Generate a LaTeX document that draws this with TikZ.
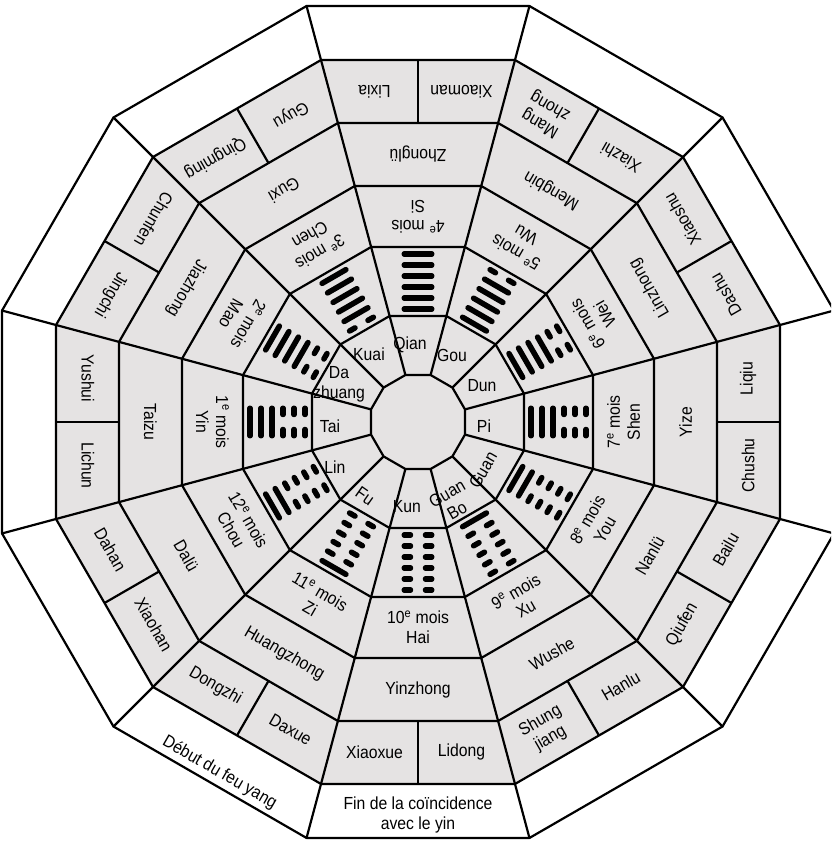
\documentclass[tikz,border=0pt]{standalone}
\usepackage{fontspec}
\setmainfont{Liberation Sans}[FakeStretch=0.9]
\definecolor{paper}{RGB}{229,227,227}
\newcommand\hexgram[2]{%
  \begin{scope}[shift={(#1:140.5)}, rotate=#1+90]
    \foreach \v [count=\n] in {#2} {
      \pgfmathsetmacro\yy{(\n-3.5)*11}
      \ifnum\v=1
        \draw[hexline] (-13.75,\yy) -- (13.75,\yy);
      \else
        \draw[hexline] (-13.75,\yy) -- (-7.5,\yy) (7.5,\yy) -- (13.75,\yy);
      \fi
    }
  \end{scope}}
\newcommand\sectorlabels[6]{%
  \node[lbl, rotate=#1+90] (mo#1) at (#1:205.5) {#2};
  \node[lbl, rotate=#1+90] (lu#1) at (#1:267.5) {#3};
  \node[lbl, rotate=#1+90] (tl#1) at ({#1+7.5}:333) {#4};
  \node[lbl, rotate=#1+90] (tr#1) at ({#1-7.5}:333) {#5};
  \hexgram{#1}{#6}}
\begin{document}
\begin{tikzpicture}[x=1pt,y=1pt,line join=round,
  ring/.style={line width=2.2pt},
  hexline/.style={line width=5.5pt,line cap=round},
  lbl/.style={font=\fontsize{17.5}{20}\selectfont,align=center,inner sep=0pt}]
\clip (-418,-421) rectangle (413,422);
% vertices of the seven dodecagons
\foreach \r [count=\j] in {47,106,175,236,299,362,416} {
  \foreach \k in {0,...,11} {
    \coordinate (v\j-\k) at ({15+30*\k}:{\r/cos(15)});
  }
}
\foreach \k in {0,...,11} {
  \coordinate (m5-\k) at ({30*\k}:299);
  \coordinate (m6-\k) at ({30*\k}:362);
}
% fills
\fill[white] (v7-0) \foreach \k in {1,...,11}{ -- (v7-\k) } -- cycle;
\fill[paper] (v6-0) \foreach \k in {1,...,11}{ -- (v6-\k) } -- cycle;
% rings
\foreach \j in {1,...,7} {
  \draw[ring] (v\j-0) \foreach \k in {1,...,11}{ -- (v\j-\k) } -- cycle;
}
% spokes
\foreach \k in {0,...,11} { \draw[ring] (v1-\k) -- (v7-\k); }
% dividers of the 24 terms
\foreach \k in {0,...,11} { \draw[ring] (m5-\k) -- (m6-\k); }
% sectors
\sectorlabels{90}{4\textsuperscript{e} mois\\Si}{Zhonglü}{Lixia}{Xiaoman}{1,1,1,1,1,1}
\sectorlabels{60}{5\textsuperscript{e} mois\\Wu}{Mengbin}{Mang\\zhong}{Xiazhi}{0,1,1,1,1,1}
\sectorlabels{30}{6\textsuperscript{e} mois\\Wei}{Linzhong}{Xiaoshu}{Dashu}{0,0,1,1,1,1}
\sectorlabels{0}{7\textsuperscript{e} mois\\Shen}{Yize}{Liqiu}{Chushu}{0,0,0,1,1,1}
\sectorlabels{-30}{8\textsuperscript{e} mois\\You}{Nanlü}{Bailu}{Qiufen}{0,0,0,0,1,1}
\sectorlabels{-60}{9\textsuperscript{e} mois\\Xu}{Wushe}{Hanlu}{Shung\\jiang}{0,0,0,0,0,1}
\sectorlabels{-90}{10\textsuperscript{e} mois\\Hai}{Yinzhong}{Lidong}{Xiaoxue}{0,0,0,0,0,0}
\sectorlabels{-120}{11\textsuperscript{e} mois\\Zi}{Huangzhong}{Daxue}{Dongzhi}{1,0,0,0,0,0}
\sectorlabels{-150}{12\textsuperscript{e} mois\\Chou}{Dalü}{Xiaohan}{Dahan}{1,1,0,0,0,0}
\sectorlabels{180}{1\textsuperscript{e} mois\\Yin}{Taizu}{Lichun}{Yushui}{1,1,1,0,0,0}
\sectorlabels{150}{2\textsuperscript{e} mois\\Mao}{Jiazhong}{Jingchi}{Chunfen}{1,1,1,1,0,0}
\sectorlabels{120}{3\textsuperscript{e} mois\\Chen}{Guxi}{Qingming}{Guyu}{1,1,1,1,1,0}
% hexagram names
\node[lbl] (nQian) at (-8,77) {Qian};
\node[lbl] (nGou) at (34,67) {Gou};
\node[lbl] (nDun) at (64,36) {Dun};
\node[lbl] (nPi) at (66,-4) {Pi};
\node[lbl,rotate=60] (nGuan) at (65,-48) {Guan};
\node[lbl,rotate=30] (nBo) at (34,-80) {Guan\\Bo};
\node[lbl] (nKun) at (-11,-85) {Kun};
\node[lbl,rotate=-35] (nFu) at (-53,-74) {Fu};
\node[lbl] (nLin) at (-83,-45) {Lin};
\node[lbl] (nTai) at (-88,-4) {Tai};
\node[lbl] (nDa) at (-79,38) {Da\\zhuang};
\node[lbl] (nKuai) at (-49,68) {Kuai};
% outer ring
\node[lbl,rotate=-30] (debut) at (-119.5:403) {Début du feu yang};
\node[lbl] (fin) at (-90:393) {Fin de la coïncidence\\avec le yin};
\end{tikzpicture}
\end{document}
